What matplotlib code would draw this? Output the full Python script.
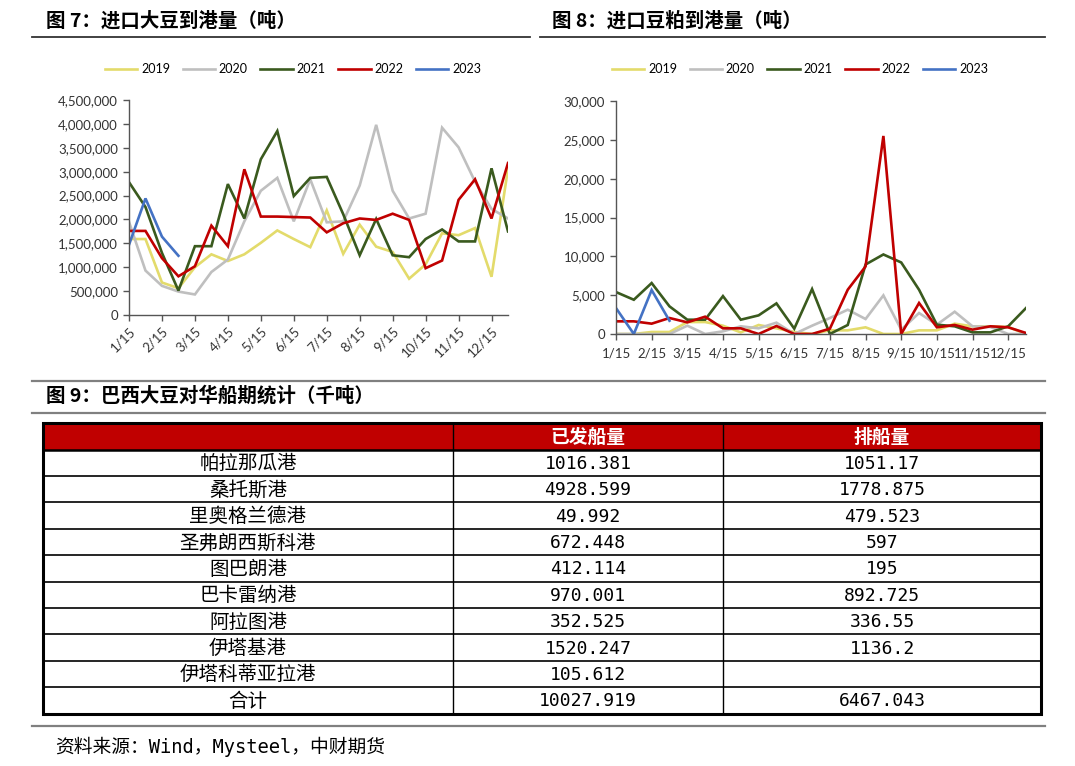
import matplotlib
matplotlib.use("Agg")
import matplotlib.pyplot as plt
from matplotlib.patches import Rectangle

plt.rcParams['font.family'] = ['Lato', 'Noto Sans CJK SC', 'DejaVu Sans']

# ---- data ----
years = ['2019', '2020', '2021', '2022', '2023']
colors = ['#E3DB6B', '#BFBFBF', '#3A5A1E', '#C00000', '#4472C4']
month_labels = ['%d/15' % m for m in range(1, 13)]

# imported soybean arrivals (t), semi-monthly
soy_2019 = [1590000, 1590000, 680000, 560000, 1000000, 1270000, 1130000, 1270000,
            1510000, 1770000, 1590000, 1420000, 2190000, 1280000, 1890000, 1430000,
            1320000, 760000, 1060000, 1710000, 1670000, 1820000, 800000, 3060000]
soy_2020 = [1950000, 930000, 610000, 490000, 430000, 900000, 1160000, 1960000,
            2600000, 2870000, 1960000, 2840000, 1940000, 1960000, 2710000, 3980000,
            2600000, 2020000, 2120000, 3920000, 3510000, 2790000, 2220000, 2020000]
soy_2021 = [2780000, 2260000, 1300000, 510000, 1440000, 1440000, 2740000, 2020000,
            3260000, 3850000, 2490000, 2870000, 2890000, 2110000, 1250000, 2010000,
            1250000, 1210000, 1590000, 1790000, 1540000, 1540000, 3070000, 1750000]
soy_2022 = [1760000, 1760000, 1190000, 810000, 1020000, 1870000, 1440000, 3050000,
            2060000, 2060000, 2050000, 2040000, 1730000, 1920000, 2020000, 1990000,
            2120000, 1990000, 980000, 1140000, 2410000, 2840000, 2020000, 3180000]
soy_2023 = [1470000, 2440000, 1640000, 1240000]

# imported soybean meal arrivals (t), semi-monthly
meal_2019 = [0, 0, 260, 260, 1540, 1540, 1070, 210, 1160, 730, 260, 0,
             470, 470, 860, 0, 0, 470, 470, 1330, 990, 990, 900, 0]
meal_2020 = [0, 0, 0, 0, 1070, 0, 340, 990, 730, 1460, 0, 1070,
             2060, 3130, 1930, 4970, 560, 2700, 1200, 2870, 990, 900, 0, 0]
meal_2021 = [5400, 4410, 6560, 3560, 1840, 1840, 4880, 1840, 2400, 3940, 690, 5780,
             0, 1160, 8950, 10240, 9210, 5700, 1200, 990, 210, 210, 990, 3340]
meal_2022 = [1630, 1630, 1330, 2060, 1500, 2230, 730, 730, 0, 1030, 0, 0,
             690, 5700, 8700, 25500, 0, 3990, 860, 1160, 560, 990, 860, 130]
meal_2023 = [3340, 0, 5660, 1710]

# Brazil soybean shipments to China (kt)
ports = ['帕拉那瓜港', '桑托斯港', '里奥格兰德港', '圣弗朗西斯科港', '图巴朗港',
         '巴卡雷纳港', '阿拉图港', '伊塔基港', '伊塔科蒂亚拉港', '合计']
shipped = ['1016.381', '4928.599', '49.992', '672.448', '412.114',
           '970.001', '352.525', '1520.247', '105.612', '10027.919']
scheduled = ['1051.17', '1778.875', '479.523', '597', '195',
             '892.725', '336.55', '1136.2', '', '6467.043']
col_heads = ['', '已发船量', '排船量']

W, H = 1075, 766
fig = plt.figure(figsize=(W / 100, H / 100), dpi=100)


def fbox(x0, y0, x1, y1):
    # pixel box (top-left origin) -> figure fraction rect
    return [x0 / W, 1 - y1 / H, (x1 - x0) / W, (y1 - y0) / H]


def line_chart(rect, series, ymax, ystep, rot, leg_cx):
    ax = fig.add_axes(rect)
    for name, vals, c in zip(years, series, colors):
        ax.plot(range(len(vals)), vals, color=c, lw=1.9, label=name,
                solid_joinstyle='miter')
    ax.set_xlim(0, 23)
    ax.set_ylim(0, ymax)
    ax.set_yticks(range(0, ymax + 1, ystep))
    ax.set_yticklabels(['{:,}'.format(v) for v in range(0, ymax + 1, ystep)])
    ax.set_xticks(range(0, 24, 2))
    if rot:
        ax.set_xticklabels(month_labels, rotation=45, ha='right',
                           rotation_mode='anchor')
    else:
        ax.set_xticklabels(month_labels)
    for s in ['top', 'right']:
        ax.spines[s].set_visible(False)
    for s in ['left', 'bottom']:
        ax.spines[s].set_color('#555555')
        ax.spines[s].set_linewidth(1.0)
    ax.tick_params(axis='both', colors='#555555', labelcolor='#333333',
                   labelsize=9.5, length=4, width=1.0, direction='out')
    ax.tick_params(axis='y', pad=4)
    ax.tick_params(axis='x', pad=3 if rot else 6)
    ax.legend(loc='center', bbox_to_anchor=(leg_cx / W, 1 - 69 / H),
              bbox_transform=fig.transFigure, ncol=5, frameon=False,
              fontsize=9, handlelength=2.6, columnspacing=1.0,
              handletextpad=0.3)
    return ax


line_chart(fbox(129, 100, 508, 315),
           [soy_2019, soy_2020, soy_2021, soy_2022, soy_2023],
           4500000, 500000, True, 293)
line_chart(fbox(616, 101, 1026, 334),
           [meal_2019, meal_2020, meal_2021, meal_2022, meal_2023],
           30000, 5000, False, 800)

# ---- overlay for titles, rules and table ----
ov = fig.add_axes([0, 0, 1, 1], zorder=-1)
ov.set_xlim(0, W)
ov.set_ylim(H, 0)
ov.axis('off')

cjk = ['Noto Sans CJK SC', 'DejaVu Sans']
mono = ['DejaVu Sans Mono', 'Noto Sans CJK SC']
ov.text(46, 21, '图 7：进口大豆到港量（吨）', fontsize=14, fontweight='bold',
        family=cjk, va='center')
ov.text(552, 21, '图 8：进口豆粕到港量（吨）', fontsize=14, fontweight='bold',
        family=cjk, va='center')
ov.plot([32, 530], [36.5, 36.5], color='#333333', lw=1.3)
ov.plot([540, 1045], [36.5, 36.5], color='#333333', lw=1.3)

ov.plot([32, 1045], [381, 381], color='#808080', lw=1.6)
ov.text(46, 396, '图 9：巴西大豆对华船期统计（千吨）', fontsize=14,
        fontweight='bold', family=cjk, va='center')
ov.plot([32, 1045], [413, 413], color='#808080', lw=1.6)

# table
col_x = [43, 453, 723, 1041]
top, head_h, row_h = 423, 26.5, 26.4
ov.add_patch(Rectangle((col_x[0], top), col_x[-1] - col_x[0], head_h,
                       facecolor='#C00000', edgecolor='none'))
for j, h in enumerate(col_heads):
    ov.text((col_x[j] + col_x[j + 1]) / 2, top + head_h / 2 + 1, h,
            color='white', fontsize=13.5, fontweight='bold', family=cjk,
            ha='center', va='center')
for i in range(len(ports)):
    yc = top + head_h + row_h * (i + 0.5)
    ov.text((col_x[0] + col_x[1]) / 2, yc + 1, ports[i], fontsize=14,
            family=cjk, ha='center', va='center', color='black')
    for j, txt in [(1, shipped[i]), (2, scheduled[i])]:
        ov.text((col_x[j] + col_x[j + 1]) / 2, yc + 1, txt, fontsize=13,
                family=mono, ha='center', va='center', color='black')
bottom = top + head_h + row_h * len(ports)
for i in range(len(ports)):
    y = top + head_h + row_h * i
    ov.plot([col_x[0], col_x[-1]], [y, y], color='black',
            lw=1.8 if i == 0 else 1.2)
for x in col_x[1:-1]:
    ov.plot([x, x], [top, bottom], color='black', lw=1.0)
ov.add_patch(Rectangle((col_x[0], top), col_x[-1] - col_x[0], bottom - top,
                       facecolor='none', edgecolor='black', lw=2.2))

ov.plot([32, 1045], [726, 726], color='#808080', lw=1.6)
ov.text(55, 747, '资料来源：Wind，Mysteel，中财期货', fontsize=13.5, family=mono,
        va='center')

fig.savefig('out.png', dpi=100)
